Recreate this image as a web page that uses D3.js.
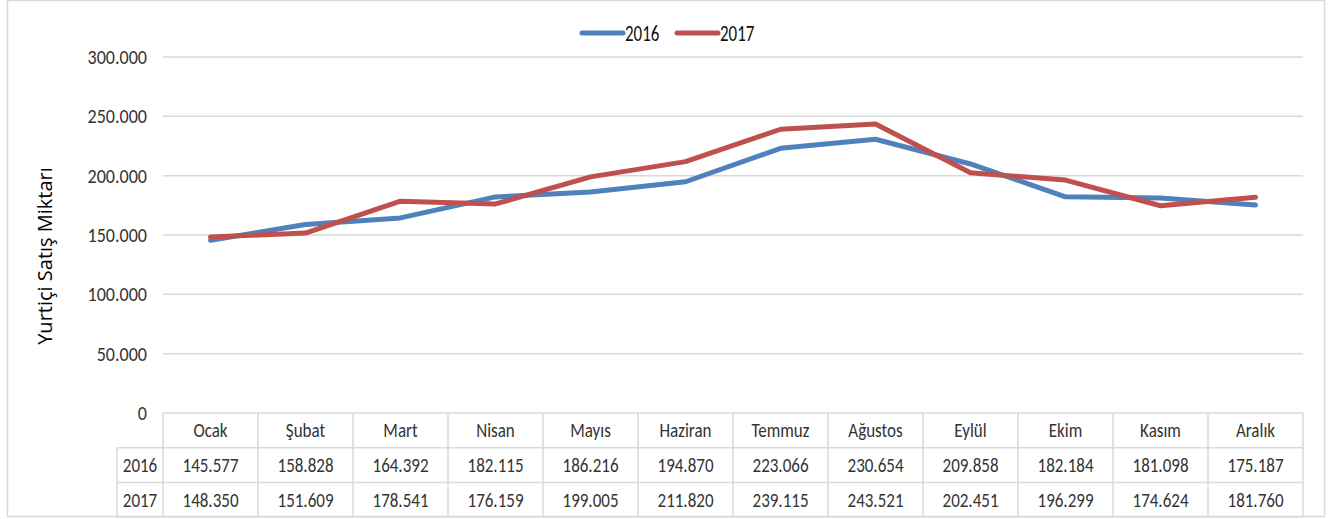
<!DOCTYPE html>
<html lang="tr">
  <head>
    <meta charset="utf-8" />
    <style>
      body { margin: 0; background: #fff; }
      svg text {
        font-family: Carlito, "Liberation Sans Narrow", "DejaVu Sans Condensed", sans-serif;
        fill: #333;
      }
      svg text.title { font-family: "Open Sans", "Noto Sans", sans-serif; }
    </style>
  </head>
  <body>
    <svg id="chart" width="1342" height="519"></svg>
    <script src="https://d3js.org/d3.v7.min.js"></script>
    <script>
      const months = ["Ocak", "Şubat", "Mart", "Nisan", "Mayıs", "Haziran",
        "Temmuz", "Ağustos", "Eylül", "Ekim", "Kasım", "Aralık"];
      const values2016 = [145577, 158828, 164392, 182115, 186216, 194870,
        223066, 230654, 209858, 182184, 181098, 175187];
      const values2017 = [148350, 151609, 178541, 176159, 199005, 211820,
        239115, 243521, 202451, 196299, 174624, 181760];
      const yTicks = [0, 50000, 100000, 150000, 200000, 250000, 300000];

      const series = [
        { name: "2016", values: values2016, color: "#4f81bd" },
        { name: "2017", values: values2017, color: "#c0504d" }
      ];

      const svg = d3.select("#chart");
      const plotLeft = 163, plotRight = 1303, plotTop = 57, plotBottom = 413;
      const rowH = 34.7;
      const fmt = v => d3.format(",")(v).replace(/,/g, ".");

      // narrow text: the original font is tall and condensed
      const label = (g, px, py, str, size, anchor, sx) =>
        g.append("text")
          .attr("transform", `translate(${px},${py}) scale(${sx},1)`)
          .attr("text-anchor", anchor)
          .style("font-size", size + "px")
          .text(str);

      // outer frame
      svg.append("rect")
        .attr("x", 7.5).attr("y", 0.5)
        .attr("width", 1317).attr("height", 516)
        .attr("fill", "none").attr("stroke", "#d9d9d9").attr("stroke-width", 1.5);

      const x = d3.scaleBand().domain(months).range([plotLeft, plotRight]);
      const y = d3.scaleLinear().domain([0, 300000]).range([plotBottom, plotTop]);

      // gridlines
      svg.append("g")
        .selectAll("line")
        .data(yTicks.filter(d => d > 0))
        .join("line")
        .attr("x1", plotLeft).attr("x2", plotRight)
        .attr("y1", d => y(d)).attr("y2", d => y(d))
        .attr("stroke", "#d9d9d9").attr("stroke-width", 1.5);

      // y tick labels
      const tickG = svg.append("g");
      yTicks.forEach(d => {
        label(tickG, 147, y(d) + 7, d === 0 ? "0" : fmt(d), 21, "end", 0.86);
      });

      // y axis title
      svg.append("text")
        .attr("class", "title")
        .attr("transform", "translate(52,256) rotate(-90)")
        .attr("text-anchor", "middle")
        .style("font-size", "20px")
        .style("fill", "#000")
        .text("Yurtiçi Satış Miktarı");

      // lines
      const line = d3.line()
        .x((d, i) => x(months[i]) + x.bandwidth() / 2)
        .y(d => y(d));

      svg.append("g")
        .selectAll("path")
        .data(series)
        .join("path")
        .attr("d", d => line(d.values))
        .attr("fill", "none")
        .attr("stroke", d => d.color)
        .attr("stroke-width", 5)
        .attr("stroke-linecap", "round")
        .attr("stroke-linejoin", "round");

      // legend
      const legend = svg.append("g");
      const legendX = [582, 677];
      series.forEach((s, i) => {
        legend.append("line")
          .attr("x1", legendX[i]).attr("x2", legendX[i] + 41)
          .attr("y1", 33).attr("y2", 33)
          .attr("stroke", s.color).attr("stroke-width", 5)
          .attr("stroke-linecap", "round");
        label(legend, legendX[i] + 43, 40.5, s.name, 22, "start", 0.77)
          .style("fill", "#111");
      });

      // data table
      const table = svg.append("g");
      const gridStroke = "#d9d9d9";
      const rowLeft = 117;
      const tableBottom = plotBottom + rowH * 3;
      // horizontal lines
      table.append("line")
        .attr("x1", plotLeft).attr("x2", plotRight).attr("y1", plotBottom).attr("y2", plotBottom)
        .attr("stroke", gridStroke).attr("stroke-width", 1.5);
      [1, 2, 3].forEach(r => {
        table.append("line")
          .attr("x1", rowLeft).attr("x2", plotRight)
          .attr("y1", plotBottom + rowH * r).attr("y2", plotBottom + rowH * r)
          .attr("stroke", gridStroke).attr("stroke-width", 1.5);
      });
      // vertical lines
      table.append("line")
        .attr("x1", rowLeft).attr("x2", rowLeft)
        .attr("y1", plotBottom + rowH).attr("y2", tableBottom)
        .attr("stroke", gridStroke).attr("stroke-width", 1.5);
      months.forEach(m => {
        table.append("line")
          .attr("x1", x(m)).attr("x2", x(m))
          .attr("y1", plotBottom).attr("y2", tableBottom)
          .attr("stroke", gridStroke).attr("stroke-width", 1.5);
      });
      table.append("line")
        .attr("x1", plotRight).attr("x2", plotRight)
        .attr("y1", plotBottom).attr("y2", tableBottom)
        .attr("stroke", gridStroke).attr("stroke-width", 1.5);

      // header text
      months.forEach(m => {
        label(table, x(m) + x.bandwidth() / 2, plotBottom + rowH / 2 + 7, m, 21, "middle", 0.81);
      });

      series.forEach((s, r) => {
        const yy = plotBottom + rowH * (r + 1) + rowH / 2 + 7;
        label(table, rowLeft + 23, yy, s.name, 21, "middle", 0.81);
        s.values.forEach((v, i) => {
          label(table, x(months[i]) + x.bandwidth() / 2, yy, fmt(v), 21, "middle", 0.81);
        });
      });
    </script>
  </body>
</html>
